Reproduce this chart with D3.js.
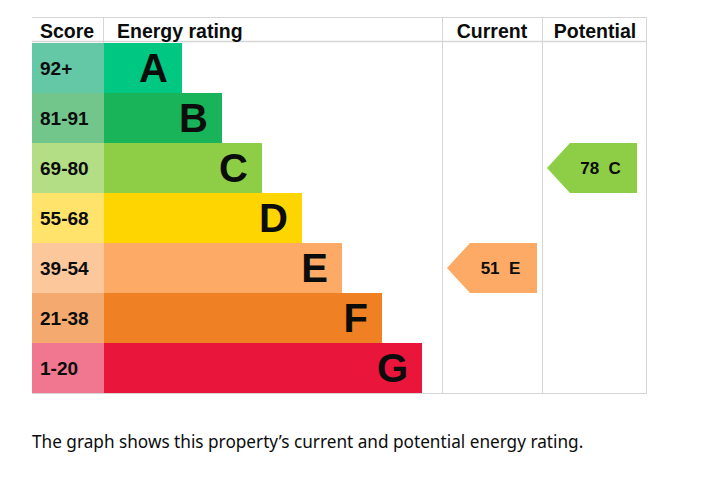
<!DOCTYPE html>
<html><head><meta charset="utf-8">
<script src="https://cdn.jsdelivr.net/npm/d3@7"></script>
<style>
html,body{margin:0;padding:0;background:#fff;}
svg{display:block;}
</style></head>
<body>
<svg id="chart" width="711" height="483"></svg>
<script>
const bands = ["A","B","C","D","E","F","G"];
const scoreLabels = ["92+","81-91","69-80","55-68","39-54","21-38","1-20"];
const scoreMin = [92,81,69,55,39,21,1];
const barColors = ["#00c781","#19b459","#8dce46","#ffd500","#fcaa65","#ef8023","#e9153b"];
const scoreColors = ["#64c7a6","#72c68c","#b3de86","#ffe36a","#fdc79c","#f4a96e","#f0778f"];
const columns = ["Current","Potential"];
const ratingValues = [51,78];
const caption = "The graph shows this property\u2019s current and potential energy rating.";

(function(){
const svg = d3.select("#chart");
const L = 32, R = 646, T = 18, headerBottom = 43, B = 393;
const scoreRight = 104, chartRight = 442;
const font = "'Liberation Sans', Arial, sans-serif";
const gridColor = "#d6d6d6";

const y = d3.scaleBand().domain(bands).range([headerBottom, B]).padding(0);
const x = d3.scaleLinear().domain([0, bands.length]).range([scoreRight + 38, chartRight - 20]);
const colX = d3.scaleBand().domain(columns).range([chartRight, chartRight + 200]).padding(0);
const colEdges = [chartRight, chartRight + 100, R];

function bandOf(v){ for(let i=0;i<scoreMin.length;i++){ if(v>=scoreMin[i]) return bands[i]; } return bands[bands.length-1]; }

const g = svg.append("g");
g.append("line").attr("x1",L).attr("x2",R+1).attr("y1",T-0.5).attr("y2",T-0.5).attr("stroke",gridColor);
g.append("line").attr("x1",L).attr("x2",R+1).attr("y1",headerBottom-1.5).attr("y2",headerBottom-1.5).attr("stroke",gridColor).attr("stroke-width",1.5);
g.append("line").attr("x1",L).attr("x2",R+1).attr("y1",B+0.5).attr("y2",B+0.5).attr("stroke",gridColor);
g.append("line").attr("x1",scoreRight-0.5).attr("x2",scoreRight-0.5).attr("y1",T).attr("y2",headerBottom).attr("stroke",gridColor);
colEdges.forEach(e=>{
  g.append("line").attr("x1",e+0.5).attr("x2",e+0.5).attr("y1",T).attr("y2",B).attr("stroke",gridColor);
});

const hdr = svg.append("g").attr("font-family",font).attr("font-weight","bold").attr("font-size",19.5).attr("fill","#0b0c0c");
hdr.append("text").attr("x",40).attr("y",38).text("Score");
hdr.append("text").attr("x",117).attr("y",38).text("Energy rating");
columns.forEach((c,i)=>{
  hdr.append("text").attr("x",(colEdges[i]+colEdges[i+1])/2 + i).attr("y",38).attr("text-anchor","middle").text(c);
});

svg.append("g").selectAll("rect").data(bands).join("rect")
  .attr("x",L).attr("y",d=>y(d)).attr("width",scoreRight-L).attr("height",y.bandwidth())
  .attr("fill",(d,i)=>scoreColors[i]);
svg.append("g").selectAll("text").data(bands).join("text")
  .attr("x",40).attr("y",d=>y(d)+y.bandwidth()/2+6.5)
  .attr("font-family",font).attr("font-weight","bold").attr("font-size",19).attr("fill","#0b0c0c")
  .text((d,i)=>scoreLabels[i]);

svg.append("g").selectAll("rect").data(bands).join("rect")
  .attr("x",scoreRight).attr("y",d=>y(d)).attr("width",(d,i)=>x(i+1)-scoreRight).attr("height",y.bandwidth())
  .attr("fill",(d,i)=>barColors[i]);
svg.append("g").selectAll("text").data(bands).join("text")
  .attr("x",(d,i)=>x(i+1)-14).attr("y",d=>y(d)+y.bandwidth()/2+14)
  .attr("text-anchor","end")
  .attr("font-family",font).attr("font-weight","bold").attr("font-size",40).attr("fill","#0b0c0c")
  .text(d=>d);

columns.forEach((c,ci)=>{
  const v = ratingValues[ci];
  const b = bandOf(v);
  const bi = bands.indexOf(b);
  const x0 = colX(c)+5, x1 = colX(c)+95, tip = 23;
  const y0 = y(b), h = y.bandwidth();
  svg.append("path")
    .attr("d", d3.line()([[x0,y0+h/2],[x0+tip,y0],[x1,y0],[x1,y0+h],[x0+tip,y0+h]]) + "Z")
    .attr("fill", barColors[bi]);
  svg.append("text").attr("x",(x0+tip+x1)/2-3).attr("y",y0+h/2+6)
    .attr("text-anchor","middle").attr("font-family",font).attr("font-weight","bold")
    .attr("font-size",17).attr("fill","#0b0c0c")
    .text(v+"\u00a0\u00a0"+b);
});

svg.append("text").attr("x",32).attr("y",448)
  .attr("font-family","'Noto Sans', sans-serif").attr("font-size",17.2).attr("fill","#0b0c0c")
  .text(caption);
})();
</script>
</body></html>
